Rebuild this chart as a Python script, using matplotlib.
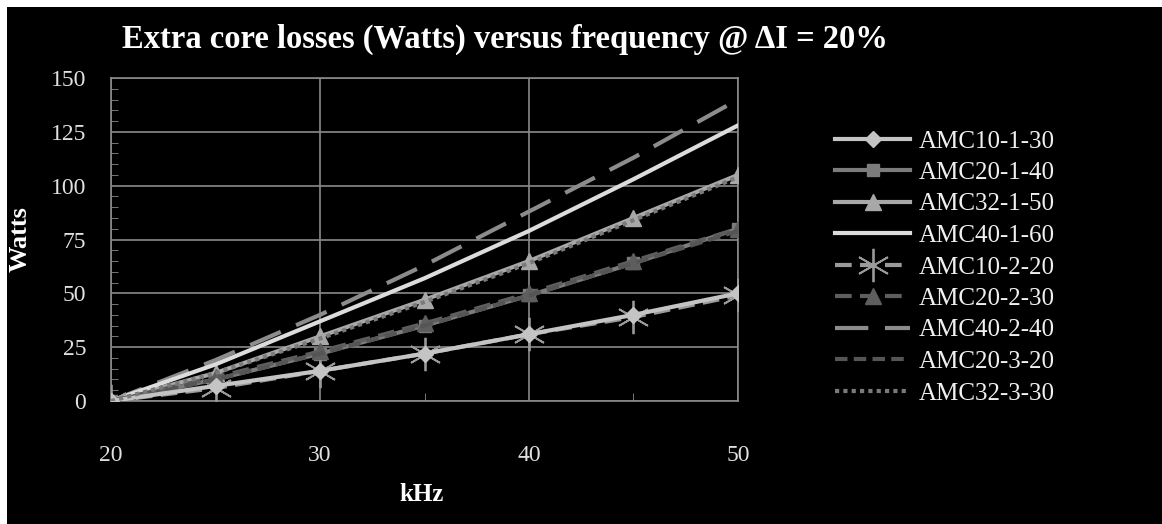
import matplotlib.pyplot as plt
from matplotlib.patches import Rectangle
from matplotlib.ticker import MultipleLocator

# data
freq = [20, 25, 30, 35, 40, 45, 50]
amc10_1_30 = [0, 7, 14, 22, 31, 40, 50]
amc20_1_40 = [0, 10, 22, 35, 49, 64, 80]
amc32_1_50 = [0, 13, 30, 47, 65, 85, 105]
amc40_1_60 = [0, 17, 37, 57, 79, 103, 128]
amc10_2_20 = [0, 6, 14, 22, 31, 39, 49]
amc20_2_30 = [0, 11, 23, 36, 50, 65, 80]
amc40_2_40 = [0, 19, 40, 63, 88, 113, 140]
amc20_3_20 = [0, 10, 22, 35, 49, 64, 79]
amc32_3_30 = [0, 13, 29, 46, 64, 84, 104]

plt.rcParams['font.family'] = ['Liberation Serif', 'DejaVu Serif']

fig = plt.figure(figsize=(11.62, 5.24), dpi=100)
fig.patch.set_facecolor('white')
# black background with thin white border on top and left
fig.add_artist(Rectangle((7 / 1162, 0), 1, 517 / 524, transform=fig.transFigure,
                         facecolor='black', edgecolor='none', zorder=0))

ax = fig.add_axes([111 / 1162, 1 - 401 / 524, (738 - 111) / 1162, (401 - 78) / 524])
ax.set_facecolor('black')

ax.plot(freq, amc10_1_30, color='#c4c4c4', lw=3, marker='D', ms=8, label='AMC10-1-30', zorder=5)
ax.plot(freq, amc20_1_40, color='#7c7c7c', lw=3, marker='s', ms=9, label='AMC20-1-40', zorder=4)
ax.plot(freq, amc32_1_50, color='#a8a8a8', lw=3, marker='^', ms=12, label='AMC32-1-50', zorder=4)
ax.plot(freq, amc40_1_60, color='#dcdcdc', lw=3, label='AMC40-1-60', zorder=4)
ax.plot(freq, amc10_2_20, color='#9a9a9a', lw=3, ls=(0, (4, 2)), marker=(6, 2, 0), ms=24,
        mew=1.3, label='AMC10-2-20', zorder=4)
ax.plot(freq, amc20_2_30, color='#5e5e5e', lw=3, ls=(0, (4, 2)), marker='^', ms=12,
        label='AMC20-2-30', zorder=4)
ax.plot(freq, amc40_2_40, color='#8c8c8c', lw=3, ls=(0, (8, 4)), label='AMC40-2-40', zorder=3)
ax.plot(freq, amc20_3_20, color='#555555', lw=3, ls=(0, (3, 1.5)), label='AMC20-3-20', zorder=4)
ax.plot(freq, amc32_3_30, color='#7a7a7a', lw=3, ls=(0, (1, 1)), label='AMC32-3-30', zorder=5)

ax.set_xlim(20, 50)
ax.set_ylim(0, 150)
ax.set_xticks([20, 30, 40, 50])
ax.xaxis.set_minor_locator(MultipleLocator(5))
ax.set_yticks([0, 25, 50, 75, 100, 125, 150])
ax.yaxis.set_minor_locator(MultipleLocator(5))
ax.grid(True, which='major', color='#8a8a8a', lw=1.2)
for s in ax.spines.values():
    s.set_color('#8a8a8a')
    s.set_linewidth(1.2)
ax.tick_params(axis='both', which='major', colors='#e0e0e0', labelsize=17, length=0)
ax.tick_params(axis='y', which='major', pad=18)
ax.tick_params(axis='x', which='major', pad=32)
ax.tick_params(axis='y', which='minor', direction='in', length=5, color='#8a8a8a')
ax.tick_params(axis='x', which='minor', direction='in', length=6, color='#8a8a8a')

ax.set_xlabel('kHz', color='white', fontsize=18, fontweight='bold')
ax.set_ylabel('Watts', color='white', fontsize=19, fontweight='bold')
ax.yaxis.set_label_coords(-0.145, 0.5)
ax.xaxis.set_label_coords(0.496, -0.29)
ax.xaxis.label.set_va('center')
ax.yaxis.label.set_va('center')

fig.text(505 / 1162, 0.925, 'Extra core losses (Watts) versus frequency @ \u0394I = 20%',
         ha='center', va='center', color='white', fontsize=23.5, fontweight='bold')

leg = fig.legend(*ax.get_legend_handles_labels(), loc='upper left',
                 bbox_to_anchor=(835 / 1162, 1 - 130 / 524), frameon=False,
                 borderpad=0, borderaxespad=0,
                 handlelength=3.0, labelspacing=0.36, handletextpad=0.35,
                 fontsize=18, labelcolor='#f0f0f0')

fig.savefig('out.png', dpi=100, facecolor=fig.get_facecolor())
